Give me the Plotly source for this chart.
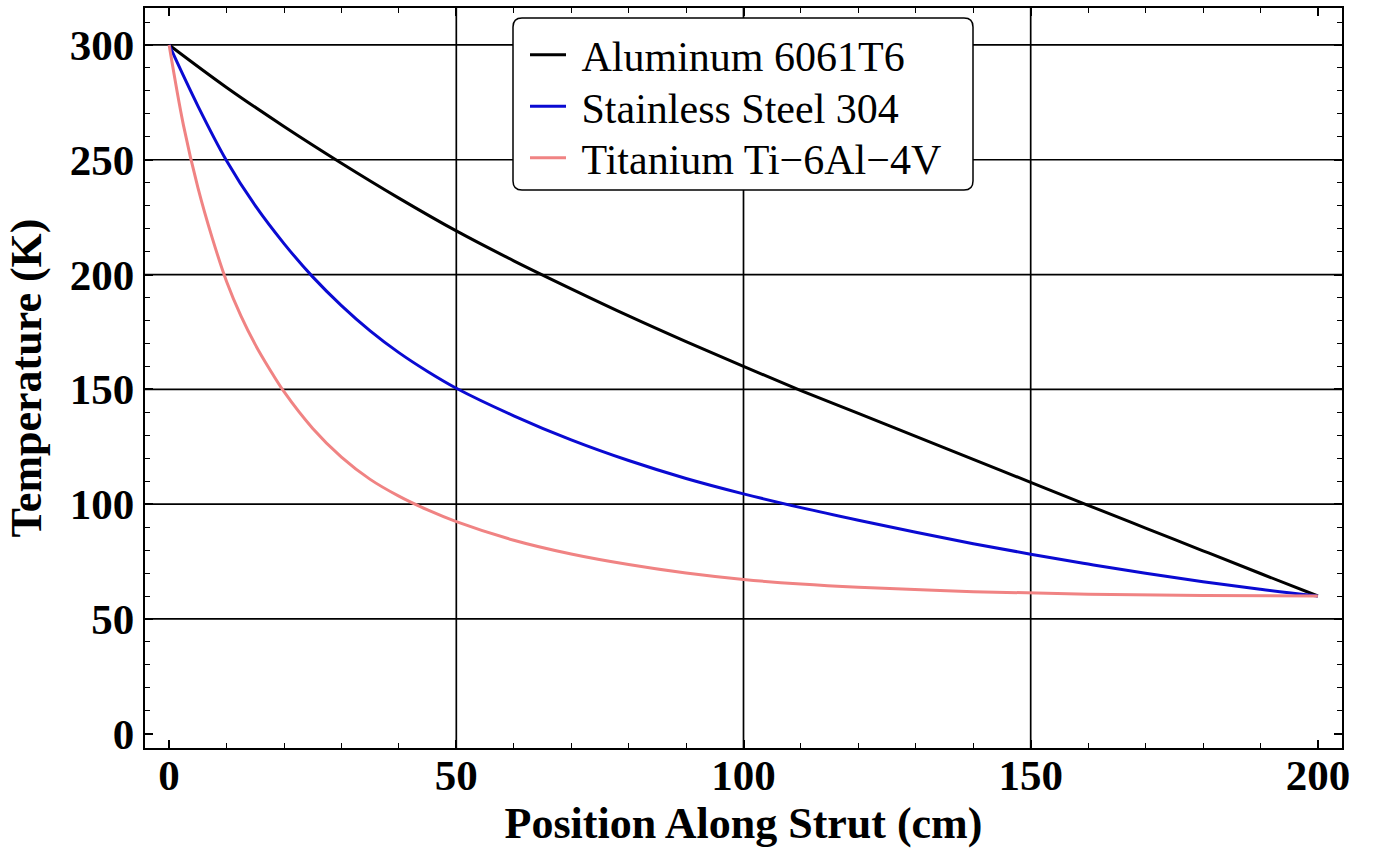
import plotly.graph_objects as go

# Data
al_x = [0, 10, 20, 30, 40, 50, 60, 70, 80, 90, 100, 110, 120, 130, 140, 150, 160, 170, 180, 190, 200]
al_y = [300, 281.5, 264.5, 248.5, 233.3, 219, 206, 193.8, 182, 170.8, 160, 149.5, 139.5, 129.5, 119.5, 109.5, 99.5, 89.6, 79.7, 69.8, 60]

ss_x = [0, 5, 10, 15, 20, 25, 30, 35, 40, 45, 50, 60, 70, 80, 90, 100, 110, 120, 130, 140, 150, 160, 170, 180, 190, 200]
ss_y = [300, 273.5, 249.6, 230, 213.5, 199, 186.5, 175.5, 166, 157.8, 150.5, 138.5, 128, 119, 111.2, 104.5, 98.5, 93, 87.8, 82.8, 78.2, 73.9, 69.9, 66.2, 62.9, 60]

ti_x = [0, 2.5, 5, 7.5, 10, 12.5, 15, 17.5, 20, 25, 30, 35, 40, 45, 50, 60, 70, 80, 90, 100, 110, 120, 140, 160, 180, 200]
ti_y = [300, 265, 238, 216, 197, 182, 169.5, 158.8, 149, 133, 120.5, 110.8, 103.5, 97.5, 92.4, 84.3, 78.3, 73.7, 70, 67.2, 65.2, 63.8, 61.9, 60.8, 60.2, 60]

names = ["Aluminum 6061T6", "Stainless Steel 304", "Titanium Ti\u22126Al\u22124V"]
colors = ["#000000", "#0a0ad2", "#f08383"]

x_grid = [50, 100, 150]
y_grid = [50, 100, 150, 200, 250, 300]

x_range = [-4.2, 204.2]
y_range = [-6.2, 316.1]

serif = "Liberation Serif, Times New Roman, serif"

W, H = 1378, 855
ml, mr, mt, mb = 145, 36, 8, 107
pw, ph = W - ml - mr, H - mt - mb
def px(x):
    return (x - ml) / pw
def py(y):
    return (H - mb - y) / ph

legend_ids = ["legend", "legend2", "legend3"]
legend_rows_px = [55, 106.5, 158]

fig = go.Figure()
for xs, ys, nm, c, lg in zip([al_x, ss_x, ti_x], [al_y, ss_y, ti_y], names, colors, legend_ids):
    fig.add_trace(go.Scatter(x=xs, y=ys, mode="lines", name="\u00a0" + nm, legend=lg,
                             line=dict(color=c, width=3, shape="spline", smoothing=1.0)))

shapes = []
for gx in x_grid:
    shapes.append(dict(type="line", xref="x", yref="paper", x0=gx, x1=gx, y0=0, y1=1,
                       line=dict(color="black", width=1.7), layer="below"))
for gy in y_grid:
    shapes.append(dict(type="line", xref="paper", yref="y", x0=0, x1=1, y0=gy, y1=gy,
                       line=dict(color="black", width=1.7), layer="below"))

# rounded legend box (paper coords)
bx0, bx1, by0, by1 = 513, 973, 18, 190
r = 9
path = (f"M {px(bx0 + r)},{py(by0)} L {px(bx1 - r)},{py(by0)} "
        f"Q {px(bx1)},{py(by0)} {px(bx1)},{py(by0 + r)} "
        f"L {px(bx1)},{py(by1 - r)} Q {px(bx1)},{py(by1)} {px(bx1 - r)},{py(by1)} "
        f"L {px(bx0 + r)},{py(by1)} Q {px(bx0)},{py(by1)} {px(bx0)},{py(by1 - r)} "
        f"L {px(bx0)},{py(by0 + r)} Q {px(bx0)},{py(by0)} {px(bx0 + r)},{py(by0)} Z")
shapes.append(dict(type="path", xref="paper", yref="paper", path=path,
                   fillcolor="white", line=dict(color="black", width=1.5), layer="above"))

tickfont = dict(family=serif, size=43, color="black")
axis_common = dict(
    showline=True, linecolor="black", linewidth=2.2, mirror="ticks",
    ticks="inside", ticklen=8, tickwidth=1.6, tickcolor="black",
    showgrid=False, zeroline=False, tickfont=tickfont,
    minor=dict(ticks="inside", ticklen=5, tickwidth=1.3, tickcolor="black", dtick=10, showgrid=False),
)

legend_layout = {}
for lg, rowy in zip(legend_ids, legend_rows_px):
    legend_layout[lg] = dict(x=px(525), y=py(rowy), xanchor="left", yanchor="middle",
                             bgcolor="rgba(0,0,0,0)", borderwidth=0,
                             font=dict(family=serif, size=42, color="black"),
                             itemwidth=36)

fig.update_layout(
    width=W, height=H,
    margin=dict(l=ml, r=mr, t=mt, b=mb, autoexpand=False),
    paper_bgcolor="white", plot_bgcolor="white",
    shapes=shapes,
    showlegend=True,
    xaxis=dict(range=x_range, tick0=0, dtick=50, ticklabelstandoff=-12,
               title=dict(text="<b>Position Along Strut (cm)</b>",
                          font=dict(family=serif, size=44, color="black"), standoff=8),
               **axis_common),
    yaxis=dict(range=y_range, tick0=0, dtick=50,
               title=dict(text="<b>Temperature (K)</b>",
                          font=dict(family=serif, size=44, color="black"), standoff=14),
               **axis_common),
    **legend_layout,
)
fig.update_xaxes(tickprefix="<b>", ticksuffix="</b>")
fig.update_yaxes(tickprefix="<b>", ticksuffix="</b>")

fig.write_html("out.html", config={"displayModeBar": False},
               post_script="document.body.style.margin='0';document.body.style.overflow='hidden';")
